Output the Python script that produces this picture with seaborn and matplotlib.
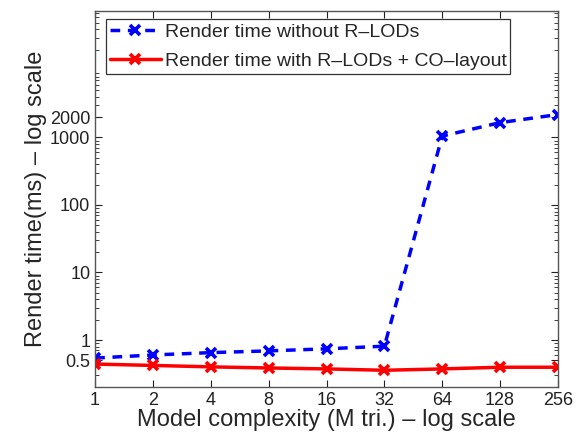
import pandas as pd
import matplotlib
matplotlib.use("Agg")
import matplotlib.pyplot as plt
import matplotlib.ticker as mticker
import seaborn as sns

# Données
complexity = [1, 2, 4, 8, 16, 32, 64, 128, 256]
time_without = [0.54, 0.60, 0.65, 0.69, 0.74, 0.81, 1050, 1660, 2190]
time_with = [0.44, 0.42, 0.40, 0.385, 0.373, 0.356, 0.373, 0.395, 0.395]
y_ticks = [0.5, 1, 10, 100, 1000, 2000]
y_tick_labels = ["0.5", "1", "10", "100", "1000", "2000"]

label_without = "Render time without R–LODs"
label_with = "Render time with R–LODs + CO–layout"

df_without = pd.DataFrame({"complexity": complexity, "time": time_without})
df_with = pd.DataFrame({"complexity": complexity, "time": time_with})

sns.set_style("ticks")
plt.rcParams["font.family"] = ["Liberation Sans", "DejaVu Sans"]

fig = plt.figure(figsize=(5.8, 4.37), dpi=100)
ax = fig.add_axes([0.164, 0.114, 0.798, 0.861])

sns.lineplot(data=df_without, x="complexity", y="time", label=label_without,
             color="#0000ff", linestyle=(0, (2.8, 2.2)), linewidth=2.5,
             marker="x", markersize=7, markeredgewidth=2.6,
             markeredgecolor="#0000ff", ax=ax)
sns.lineplot(data=df_with, x="complexity", y="time", label=label_with,
             color="#ff0000", linestyle="-", linewidth=2.5,
             marker="x", markersize=7, markeredgewidth=2.6,
             markeredgecolor="#ff0000", ax=ax)

ax.set_xscale("log", base=2)
ax.set_yscale("log")
ax.set_xlim(1, 256)
ax.set_ylim(0.2, 7.5e4)

ax.set_xticks(complexity)
ax.xaxis.set_major_formatter(mticker.FixedFormatter([str(c) for c in complexity]))
ax.xaxis.set_minor_locator(mticker.NullLocator())
ax.set_yticks(y_ticks)
ax.set_yticklabels(y_tick_labels)
ax.yaxis.set_minor_locator(mticker.LogLocator(base=10, subs=range(2, 10), numticks=20))
ax.yaxis.set_minor_formatter(mticker.NullFormatter())

ax.tick_params(which="both", direction="in", top=True, right=True,
               labelsize=13, colors="#222222")
ax.tick_params(which="major", length=5, width=0.8)
ax.tick_params(which="minor", length=3, width=0.6)
for s in ax.spines.values():
    s.set_color("#555555")
    s.set_linewidth(1.0)

ax.set_xlabel("Model complexity (M tri.) – log scale", fontsize=17, labelpad=0)
ax.set_ylabel("Render time(ms) – log scale", fontsize=17, labelpad=2)

leg = ax.legend(loc="upper left", fontsize=14, frameon=True, fancybox=False,
                borderpad=0.2, handlelength=2.6, handletextpad=0.2,
                labelspacing=0.6, borderaxespad=0,
                bbox_to_anchor=(0.024, 0.978))
leg.get_frame().set_edgecolor("black")
leg.get_frame().set_linewidth(0.9)

fig.savefig("out.png", dpi=100)
